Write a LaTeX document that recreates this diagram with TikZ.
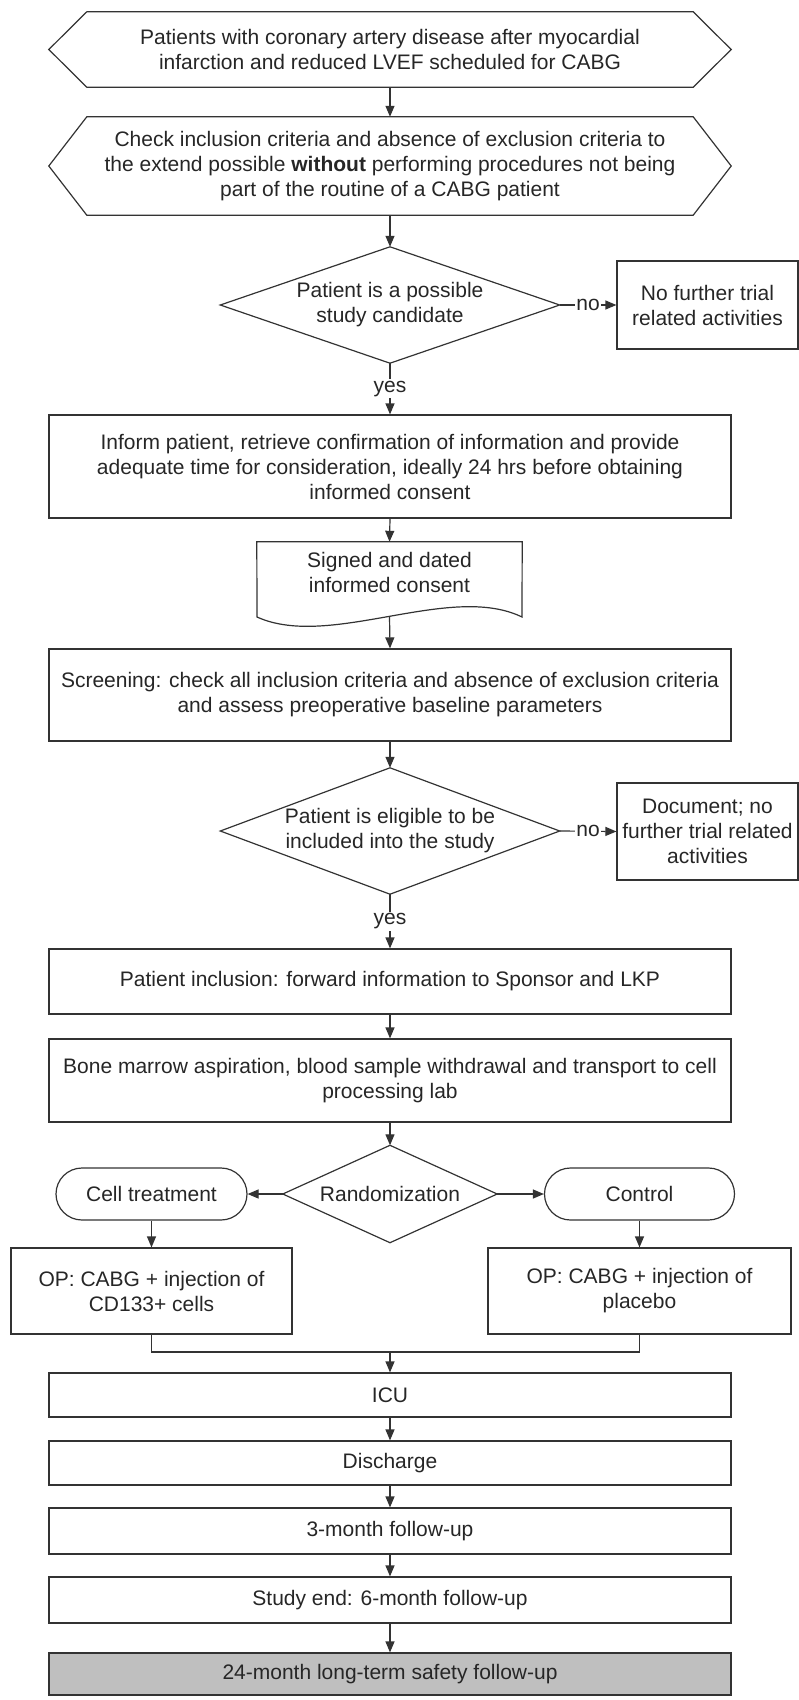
\documentclass[tikz,border=0pt]{standalone}
\usepackage{fontspec}
\setmainfont{Liberation Sans}
\usetikzlibrary{arrows.meta}

\begin{document}
\begin{tikzpicture}[x=1pt, y=-1pt,
    every node/.style={font=\fontsize{21}{25}\selectfont, text=black!85, align=center, inner sep=0pt},
    outline/.style={draw=black!80, line width=1.2pt},
    plain/.style 2 args={minimum width=#1, minimum height=#2},
    box/.style 2 args={outline, minimum width=#1, minimum height=#2},
    terminal/.style={outline, rounded corners=26pt, minimum width=#1, minimum height=52pt},
    arrow/.style={outline, -{Triangle[length=11pt,width=9pt]}},
    answer/.style={fill=white, inner sep=1.5pt}]
    \useasboundingbox (0,0) rectangle (799,1700);

    % Screening part
    \node[plain={682pt}{75pt}] (patients) at (390,49.5) {Patients with coronary artery disease after myocardial\\ infarction and reduced LVEF scheduled for CABG};
    \node[plain={682pt}{98pt}] (check) at (390,166) {Check inclusion criteria and absence of exclusion criteria to\\ the extend possible \textbf{without} performing procedures not being\\ part of the routine of a CABG patient};
    \node[plain={339pt}{116pt}] (candidate) at (390,305) {Patient is a possible\\ study candidate};
    \node[box={181pt}{88pt}] (nofurther) at (707.5,305) {No further trial\\ related activities};
    \node[box={682pt}{103pt}] (inform) at (390,466.5) {Inform patient, retrieve confirmation of information and provide\\ adequate time for consideration, ideally 24 hrs before obtaining\\ informed consent};
    \node[plain={265pt}{61pt}] (consent) at (389.5,572.5) {Signed and dated\\ informed consent};
    \coordinate (wave) at (389.5,616);
    \node[box={682pt}{92pt}] (screening) at (390,695) {Screening: check all inclusion criteria and absence of exclusion criteria\\ and assess preoperative baseline parameters};
    \node[plain={339pt}{126pt}] (eligible) at (390,831) {Patient is eligible to be\\ included into the study};
    \node[box={181pt}{97pt}] (document) at (707.5,831.5) {Document; no\\ further trial related\\ activities};

    % Inclusion and randomization
    \node[box={682pt}{65pt}] (inclusion) at (390,981.5) {Patient inclusion: forward information to Sponsor and LKP};
    \node[box={682pt}{83pt}] (marrow) at (390,1080.5) {Bone marrow aspiration, blood sample withdrawal and transport to cell\\ processing lab};
    \node[plain={214pt}{97pt}] (random) at (390,1194) {Randomization};
    \node[terminal={191pt}] (cell) at (151.5,1194) {Cell treatment};
    \node[terminal={190pt}] (control) at (639.5,1194) {Control};
    \node[box={281pt}{86pt}] (opcells) at (151.5,1291) {OP: CABG + injection of\\ CD133+ cells};
    \node[box={303pt}{86pt}] (opplacebo) at (639.5,1291) {OP: CABG + injection of\\ placebo};
    \coordinate (merge) at (390,1352);

    % Follow-up
    \node[box={682pt}{44pt}] (icu) at (390,1395) {ICU};
    \node[box={682pt}{44pt}] (discharge) at (390,1463) {Discharge};
    \node[box={682pt}{46pt}] (month3) at (390,1531) {3-month follow-up};
    \node[box={682pt}{46pt}] (studyend) at (390,1600) {Study end: 6-month follow-up};
    \node[box={682pt}{42pt}, fill=gray!50] (month24) at (390,1674) {24-month long-term safety follow-up};

    % Outlines of hexagons, diamonds and the document
    \foreach \h in {patients,check}
        \draw[outline] ([xshift=38pt]\h.north west) -- ([xshift=-38pt]\h.north east) -- (\h.east) -- ([xshift=-38pt]\h.south east) -- ([xshift=38pt]\h.south west) -- (\h.west) -- cycle;
    \foreach \d in {candidate,eligible,random}
        \draw[outline] (\d.north) -- (\d.east) -- (\d.south) -- (\d.west) -- cycle;
    \draw[outline] (consent.north west) -- (consent.north east) -- (522,617) .. controls (450,582) and (330,650) .. (257,617) -- cycle;

    % Arrows
    \foreach \a/\b in {patients/check, check/candidate, inform/consent, screening/eligible, inclusion/marrow, marrow/random, cell/opcells, control/opplacebo, icu/discharge, discharge/month3, month3/studyend, studyend/month24}
        \draw[arrow] (\a.south) -- (\b.north);
    \draw[arrow] (candidate.east) -- node[answer] {no} (nofurther.west);
    \draw[arrow] (candidate.south) -- node[answer] {yes} (inform.north);
    \draw[arrow] (eligible.east) -- node[answer] {no} (document.west);
    \draw[arrow] (eligible.south) -- node[answer] {yes} (inclusion.north);
    \draw[arrow] (wave) -- (screening.north);
    \draw[arrow] (random.west) -- (cell.east);
    \draw[arrow] (random.east) -- (control.west);
    \draw[outline] (opcells.south) |- (merge) -| (opplacebo.south);
    \draw[arrow] (merge) -- (icu.north);
\end{tikzpicture}
\end{document}
